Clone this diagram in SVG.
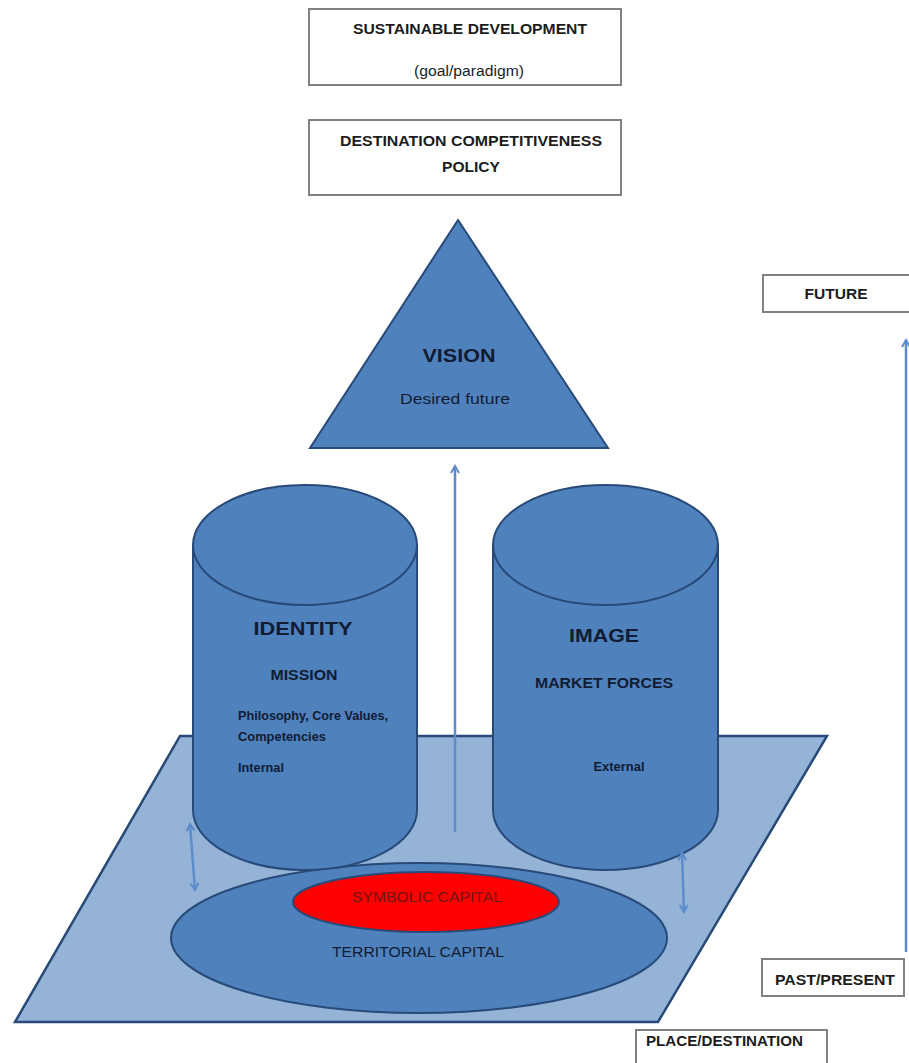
<svg xmlns="http://www.w3.org/2000/svg" width="909" height="1063" viewBox="0 0 909 1063">
  <style>
    .box { fill: #ffffff; stroke: #808080; stroke-width: 2; }
    .shape { fill: #4f81bd; stroke: #274a78; stroke-width: 2; }
    .plane { fill: #95b3d7; stroke: #274a78; stroke-width: 2.5; }
    .core { fill: #ff0000; stroke: #274a78; stroke-width: 2; }
    .t { font-family: "Liberation Sans", Arial, sans-serif; fill: #111c33; }
    .b { font-weight: bold; }
    .dark { fill: #1c1c1c; }
    .red { fill: #6e1515; }
    .link { fill: none; stroke: #5d8ccb; stroke-width: 2.5; }
  </style>
  <defs>
    <marker id="head" viewBox="0 0 10 10" refX="8" refY="5" markerWidth="10" markerHeight="10" markerUnits="userSpaceOnUse" orient="auto-start-reverse">
      <path d="M1,1 L8,5 L1,9" fill="none" stroke="#5d8ccb" stroke-width="2"/>
    </marker>
  </defs>

  <!-- base plane: place / destination -->
  <g id="plane">
    <polygon class="plane" points="180,736 827,736 658,1022 15,1022"/>
  </g>

  <!-- territorial capital with symbolic capital core -->
  <g id="territorial-capital">
    <ellipse class="shape" cx="419" cy="938" rx="248" ry="75"/>
    <text class="t" x="418" y="957" font-size="14" text-anchor="middle" textLength="172" lengthAdjust="spacingAndGlyphs">TERRITORIAL CAPITAL</text>
  </g>
  <g id="symbolic-capital">
    <ellipse class="core" cx="426" cy="902" rx="133" ry="30"/>
    <text class="t red" x="427" y="902" font-size="14" text-anchor="middle" textLength="150" lengthAdjust="spacingAndGlyphs">SYMBOLIC CAPITAL</text>
  </g>

  <!-- identity cylinder -->
  <g id="identity">
    <path class="shape" d="M193,545 L193,810 A112,60 0 0 0 417,810 L417,545 Z"/>
    <ellipse class="shape" cx="305" cy="545" rx="112" ry="60"/>
    <text class="t b" x="303" y="635" font-size="19" text-anchor="middle" textLength="99" lengthAdjust="spacingAndGlyphs">IDENTITY</text>
    <text class="t b" x="304" y="680" font-size="14" text-anchor="middle" textLength="67" lengthAdjust="spacingAndGlyphs">MISSION</text>
    <text class="t b" x="238" y="720" font-size="12.5" textLength="150" lengthAdjust="spacingAndGlyphs">Philosophy, Core Values,</text>
    <text class="t b" x="238" y="741" font-size="12.5" textLength="88" lengthAdjust="spacingAndGlyphs">Competencies</text>
    <text class="t b" x="238" y="772" font-size="12.5" textLength="46" lengthAdjust="spacingAndGlyphs">Internal</text>
  </g>

  <!-- image cylinder -->
  <g id="image">
    <path class="shape" d="M493,545 L493,810 A112.5,60 0 0 0 718,810 L718,545 Z"/>
    <ellipse class="shape" cx="605.5" cy="545" rx="112.5" ry="60"/>
    <text class="t b" x="604" y="642" font-size="19" text-anchor="middle" textLength="70" lengthAdjust="spacingAndGlyphs">IMAGE</text>
    <text class="t b" x="604" y="688" font-size="14" text-anchor="middle" textLength="138" lengthAdjust="spacingAndGlyphs">MARKET FORCES</text>
    <text class="t b" x="619" y="771" font-size="12.5" text-anchor="middle" textLength="51" lengthAdjust="spacingAndGlyphs">External</text>
  </g>

  <!-- vision triangle -->
  <g id="vision">
    <polygon class="shape" points="458,220 608,448 310,448"/>
    <text class="t b" x="459" y="362" font-size="19" text-anchor="middle" textLength="73" lengthAdjust="spacingAndGlyphs">VISION</text>
    <text class="t" x="455" y="404" font-size="15" text-anchor="middle" textLength="110" lengthAdjust="spacingAndGlyphs">Desired future</text>
  </g>

  <!-- top boxes -->
  <g id="sustainable-development">
    <rect class="box" x="309" y="9" width="312" height="76"/>
    <text class="t b dark" x="470" y="34" font-size="14" text-anchor="middle" textLength="234" lengthAdjust="spacingAndGlyphs">SUSTAINABLE DEVELOPMENT</text>
    <text class="t dark" x="469" y="76" font-size="14" text-anchor="middle" textLength="110" lengthAdjust="spacingAndGlyphs">(goal/paradigm)</text>
  </g>
  <g id="competitiveness-policy">
    <rect class="box" x="309" y="120" width="312" height="75"/>
    <text class="t b dark" x="471" y="146" font-size="14" text-anchor="middle" textLength="262" lengthAdjust="spacingAndGlyphs">DESTINATION COMPETITIVENESS</text>
    <text class="t b dark" x="471" y="172" font-size="14" text-anchor="middle" textLength="58" lengthAdjust="spacingAndGlyphs">POLICY</text>
  </g>

  <!-- time axis labels -->
  <g id="future">
    <rect class="box" x="763" y="275" width="150" height="37"/>
    <text class="t b dark" x="836" y="299" font-size="14" text-anchor="middle" textLength="63" lengthAdjust="spacingAndGlyphs">FUTURE</text>
  </g>
  <g id="past-present">
    <rect class="box" x="762" y="959" width="142" height="37"/>
    <text class="t b dark" x="775" y="985" font-size="14" textLength="120" lengthAdjust="spacingAndGlyphs">PAST/PRESENT</text>
  </g>
  <g id="place-destination">
    <rect class="box" x="636" y="1030" width="191" height="40"/>
    <text class="t b dark" x="646" y="1046" font-size="14" textLength="157" lengthAdjust="spacingAndGlyphs">PLACE/DESTINATION</text>
  </g>

  <!-- connectors -->
  <g id="connectors">
    <line class="link" x1="455" y1="832" x2="455" y2="466" marker-end="url(#head)"/>
    <line class="link" x1="190" y1="824" x2="195" y2="890" marker-start="url(#head)" marker-end="url(#head)"/>
    <line class="link" x1="682" y1="853" x2="684" y2="912" marker-start="url(#head)" marker-end="url(#head)"/>
    <line class="link" x1="906" y1="952" x2="906" y2="340" marker-end="url(#head)"/>
  </g>
</svg>
